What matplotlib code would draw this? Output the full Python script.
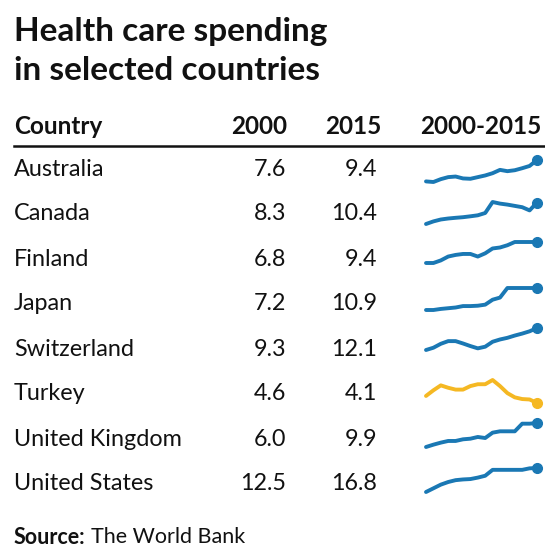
import matplotlib
matplotlib.use('Agg')
import matplotlib.pyplot as plt

plt.rcParams['font.family'] = ['Lato', 'DejaVu Sans']

# table data
countries = ['Australia', 'Canada', 'Finland', 'Japan', 'Switzerland',
             'Turkey', 'United Kingdom', 'United States']
spend_2000 = ['7.6', '8.3', '6.8', '7.2', '9.3', '4.6', '6.0', '12.5']
spend_2015 = ['9.4', '10.4', '9.4', '10.9', '12.1', '4.1', '9.9', '16.8']
years = list(range(2000, 2016))

# sparkline series (% of GDP)
aus = [7.6, 7.55, 7.79, 7.96, 8.01, 7.85, 7.82, 7.96, 8.10, 8.29, 8.57, 8.46, 8.54, 8.71, 8.90, 9.4]
can = [8.3, 8.56, 8.75, 8.85, 8.92, 8.98, 9.07, 9.17, 9.40, 10.50, 10.34, 10.24, 10.11, 9.98, 9.66, 10.45]
fin = [6.8, 6.8, 7.12, 7.6, 7.8, 7.92, 7.92, 7.6, 8.0, 8.6, 8.72, 9.0, 9.4, 9.4, 9.4, 9.4]
jpn = [7.2, 7.2, 7.38, 7.5, 7.62, 7.86, 7.86, 7.92, 8.1, 8.93, 9.29, 10.9, 10.9, 10.9, 10.9, 10.9]
che = [9.3, 9.59, 10.09, 10.43, 10.43, 10.13, 9.80, 9.51, 9.72, 10.35, 10.64, 10.85, 11.14, 11.39, 11.68, 12.1]
tur = [4.6, 5.0, 5.35, 5.18, 5.05, 5.05, 5.3, 5.43, 5.43, 5.73, 5.3, 4.8, 4.5, 4.38, 4.35, 4.1]
gbr = [6.0, 6.38, 6.71, 6.98, 6.98, 7.25, 7.35, 7.63, 7.46, 8.33, 8.55, 8.55, 8.55, 9.79, 9.79, 9.9]
usa = [12.5, 13.16, 13.82, 14.29, 14.62, 14.75, 14.82, 15.08, 15.41, 16.47, 16.47, 16.47, 16.47, 16.47, 16.74, 16.8]
series = [aus, can, fin, jpn, che, tur, gbr, usa]

blue = '#1a78b4'
yellow = '#f5b823'
ink = '#111111'

W, H = 545, 549
fig = plt.figure(figsize=(W / 100, H / 100), dpi=100)

def fy(py):
    # pixel row (from top) -> figure fraction
    return 1 - py / H

def fx(px):
    return px / W

# title
fig.text(fx(14), fy(41), 'Health care spending', fontsize=24, fontweight='bold',
         color=ink, va='baseline')
fig.text(fx(14), fy(80), 'in selected countries', fontsize=24, fontweight='bold',
         color=ink, va='baseline')

# header
head_y = 126
hs = 17.5
fig.text(fx(14), fy(head_y), 'Country', fontsize=hs, fontweight='bold', color=ink, va='center')
fig.text(fx(287), fy(head_y), '2000', fontsize=hs, fontweight='bold', color=ink, va='center', ha='right')
fig.text(fx(381), fy(head_y), '2015', fontsize=hs, fontweight='bold', color=ink, va='center', ha='right')
fig.text(fx(541), fy(head_y), '2000-2015', fontsize=hs, fontweight='bold', color=ink, va='center', ha='right')
fig.add_artist(plt.Line2D([fx(14), 1], [fy(146), fy(146)], color=ink, lw=1.8))

# sparkline boxes, pixel rows top/bottom (layout only)
spark_top = [160, 202, 242, 288, 328, 380, 423, 468]
spark_bot = [182, 224, 263, 310, 350, 403, 447, 492]

# rows
rs = 16.8
for i, name in enumerate(countries):
    ry = 169 + i * 45
    fig.text(fx(14), fy(ry), name, fontsize=rs, color=ink, va='center')
    fig.text(fx(286), fy(ry), spend_2000[i], fontsize=rs, color=ink, va='center', ha='right')
    fig.text(fx(377), fy(ry), spend_2015[i], fontsize=rs, color=ink, va='center', ha='right')

    t, b = spark_top[i], spark_bot[i]
    ax = fig.add_axes([fx(426), fy(b), 111 / W, (b - t) / H])
    c = yellow if name == 'Turkey' else blue
    ax.plot(years, series[i], color=c, lw=2.8, solid_capstyle='round',
            solid_joinstyle='round', clip_on=False)
    ax.plot(years[-1], series[i][-1], 'o', color=c, ms=7, clip_on=False)
    ax.set_xlim(years[0], years[-1])
    ax.set_ylim(min(series[i]), max(series[i]))
    ax.axis('off')

# source
src = fig.text(fx(14), fy(537), 'Source:', fontsize=15.5, fontweight='bold', color=ink, va='center')
fig.canvas.draw()
bb = src.get_window_extent()
fig.text(bb.x1 / W + 5 / W, fy(537), 'The World Bank', fontsize=15.5, color=ink, va='center')

fig.savefig('out.png', dpi=100, facecolor='white')
